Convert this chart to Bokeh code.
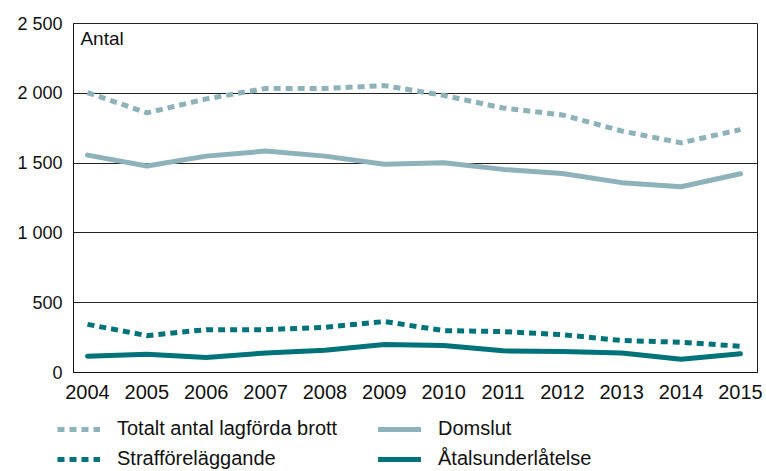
from bokeh.plotting import figure
from bokeh.layouts import column
from bokeh.models import (FixedTicker, Range1d, Legend, LegendItem, Label)
from bokeh.embed import file_html
from bokeh.resources import INLINE

years = [2004, 2005, 2006, 2007, 2008, 2009, 2010, 2011, 2012, 2013, 2014, 2015]
totalt = [2005, 1860, 1960, 2035, 2035, 2055, 1985, 1895, 1845, 1730, 1645, 1740]
domslut = [1557, 1479, 1550, 1586, 1550, 1492, 1502, 1455, 1426, 1360, 1331, 1424]
straff = [345, 264, 307, 307, 324, 365, 300, 293, 271, 229, 217, 188]
atal = [117, 130, 107, 140, 160, 200, 193, 155, 150, 140, 95, 135]

y_ticks = [0, 500, 1000, 1500, 2000, 2500]
y_tick_labels = ["0", "500", "1 000", "1 500", "2 000", "2 500"]

series_names = ["Totalt antal lagförda brott", "Domslut", "Strafföreläggande", "Åtalsunderlåtelse"]
y_axis_title = "Antal"

LIGHT = "#8db2ba"
DARK = "#00737a"
FONT = "Liberation Sans"

styles = [dict(line_color=LIGHT, line_width=5, line_dash="7 5", line_cap="butt"),
          dict(line_color=LIGHT, line_width=5, line_cap="round", line_join="round"),
          dict(line_color=DARK, line_width=5, line_dash="7 5", line_cap="butt"),
          dict(line_color=DARK, line_width=5, line_cap="round", line_join="round")]
series = [totalt, domslut, straff, atal]

p = figure(width=766, height=410, output_backend="svg", toolbar_location=None,
           x_range=Range1d(2003.764, 2015.287), y_range=Range1d(0, 2500),
           min_border_left=73, min_border_right=9, min_border_top=23, min_border_bottom=38)
p.frame_align = False

p.background_fill_color = "white"
p.border_fill_color = "white"
p.outline_line_color = "#222222"
p.outline_line_width = 1

p.xgrid.grid_line_color = None
p.ygrid.grid_line_color = "#222222"
p.ygrid.grid_line_width = 1
p.ygrid.ticker = FixedTicker(ticks=y_ticks)

p.yaxis.ticker = FixedTicker(ticks=y_ticks)
p.yaxis.major_label_overrides = {t: l for t, l in zip(y_ticks, y_tick_labels)}
p.xaxis.ticker = FixedTicker(ticks=years)

for ax in (p.xaxis, p.yaxis):
    ax.major_tick_line_color = None
    ax.minor_tick_line_color = None
    ax.major_tick_out = 0
    ax.major_tick_in = 0
    ax.minor_tick_out = 0
    ax.minor_tick_in = 0
    ax.axis_line_color = "#111111"
    ax.major_label_text_font = FONT
    ax.major_label_text_color = "#111111"
p.xaxis.major_label_text_font_size = "20px"
p.yaxis.major_label_text_font_size = "18px"
p.xaxis.major_label_standoff = 12
p.yaxis.major_label_standoff = 11

for vals, st in zip(series, styles):
    p.line(years, vals, **st)

p.add_layout(Label(x=2003.88, y=2465, text=y_axis_title, text_font=FONT,
                   text_font_size="19px", text_baseline="top", text_color="#111111"))

# legend panel below the chart (its own figure, lines kept out of view)
lg = figure(width=766, height=61, output_backend="svg", toolbar_location=None,
            x_range=Range1d(0, 1), y_range=Range1d(0, 1),
            x_axis_location=None, y_axis_location=None, min_border=0)
lg.frame_align = False
lg.outline_line_color = None
lg.xgrid.grid_line_color = None
lg.ygrid.grid_line_color = None
proxies = [lg.line(years, vals, **st) for vals, st in zip(series, styles)]

legend = Legend(items=[LegendItem(label=n, renderers=[r]) for n, r in zip(series_names, proxies)],
                orientation="horizontal", ncols=2,
                location=(57, 1),
                glyph_width=43, glyph_height=20, label_height=20,
                label_width=254, label_standoff=17, spacing=7,
                padding=0, margin=0,
                border_line_color=None, background_fill_alpha=0,
                label_text_font=FONT, label_text_font_size="20px",
                label_text_color="#111111")
lg.add_layout(legend, "center")

layout = column(p, lg, spacing=0)
open("out.html", "w").write(file_html(layout, INLINE))
